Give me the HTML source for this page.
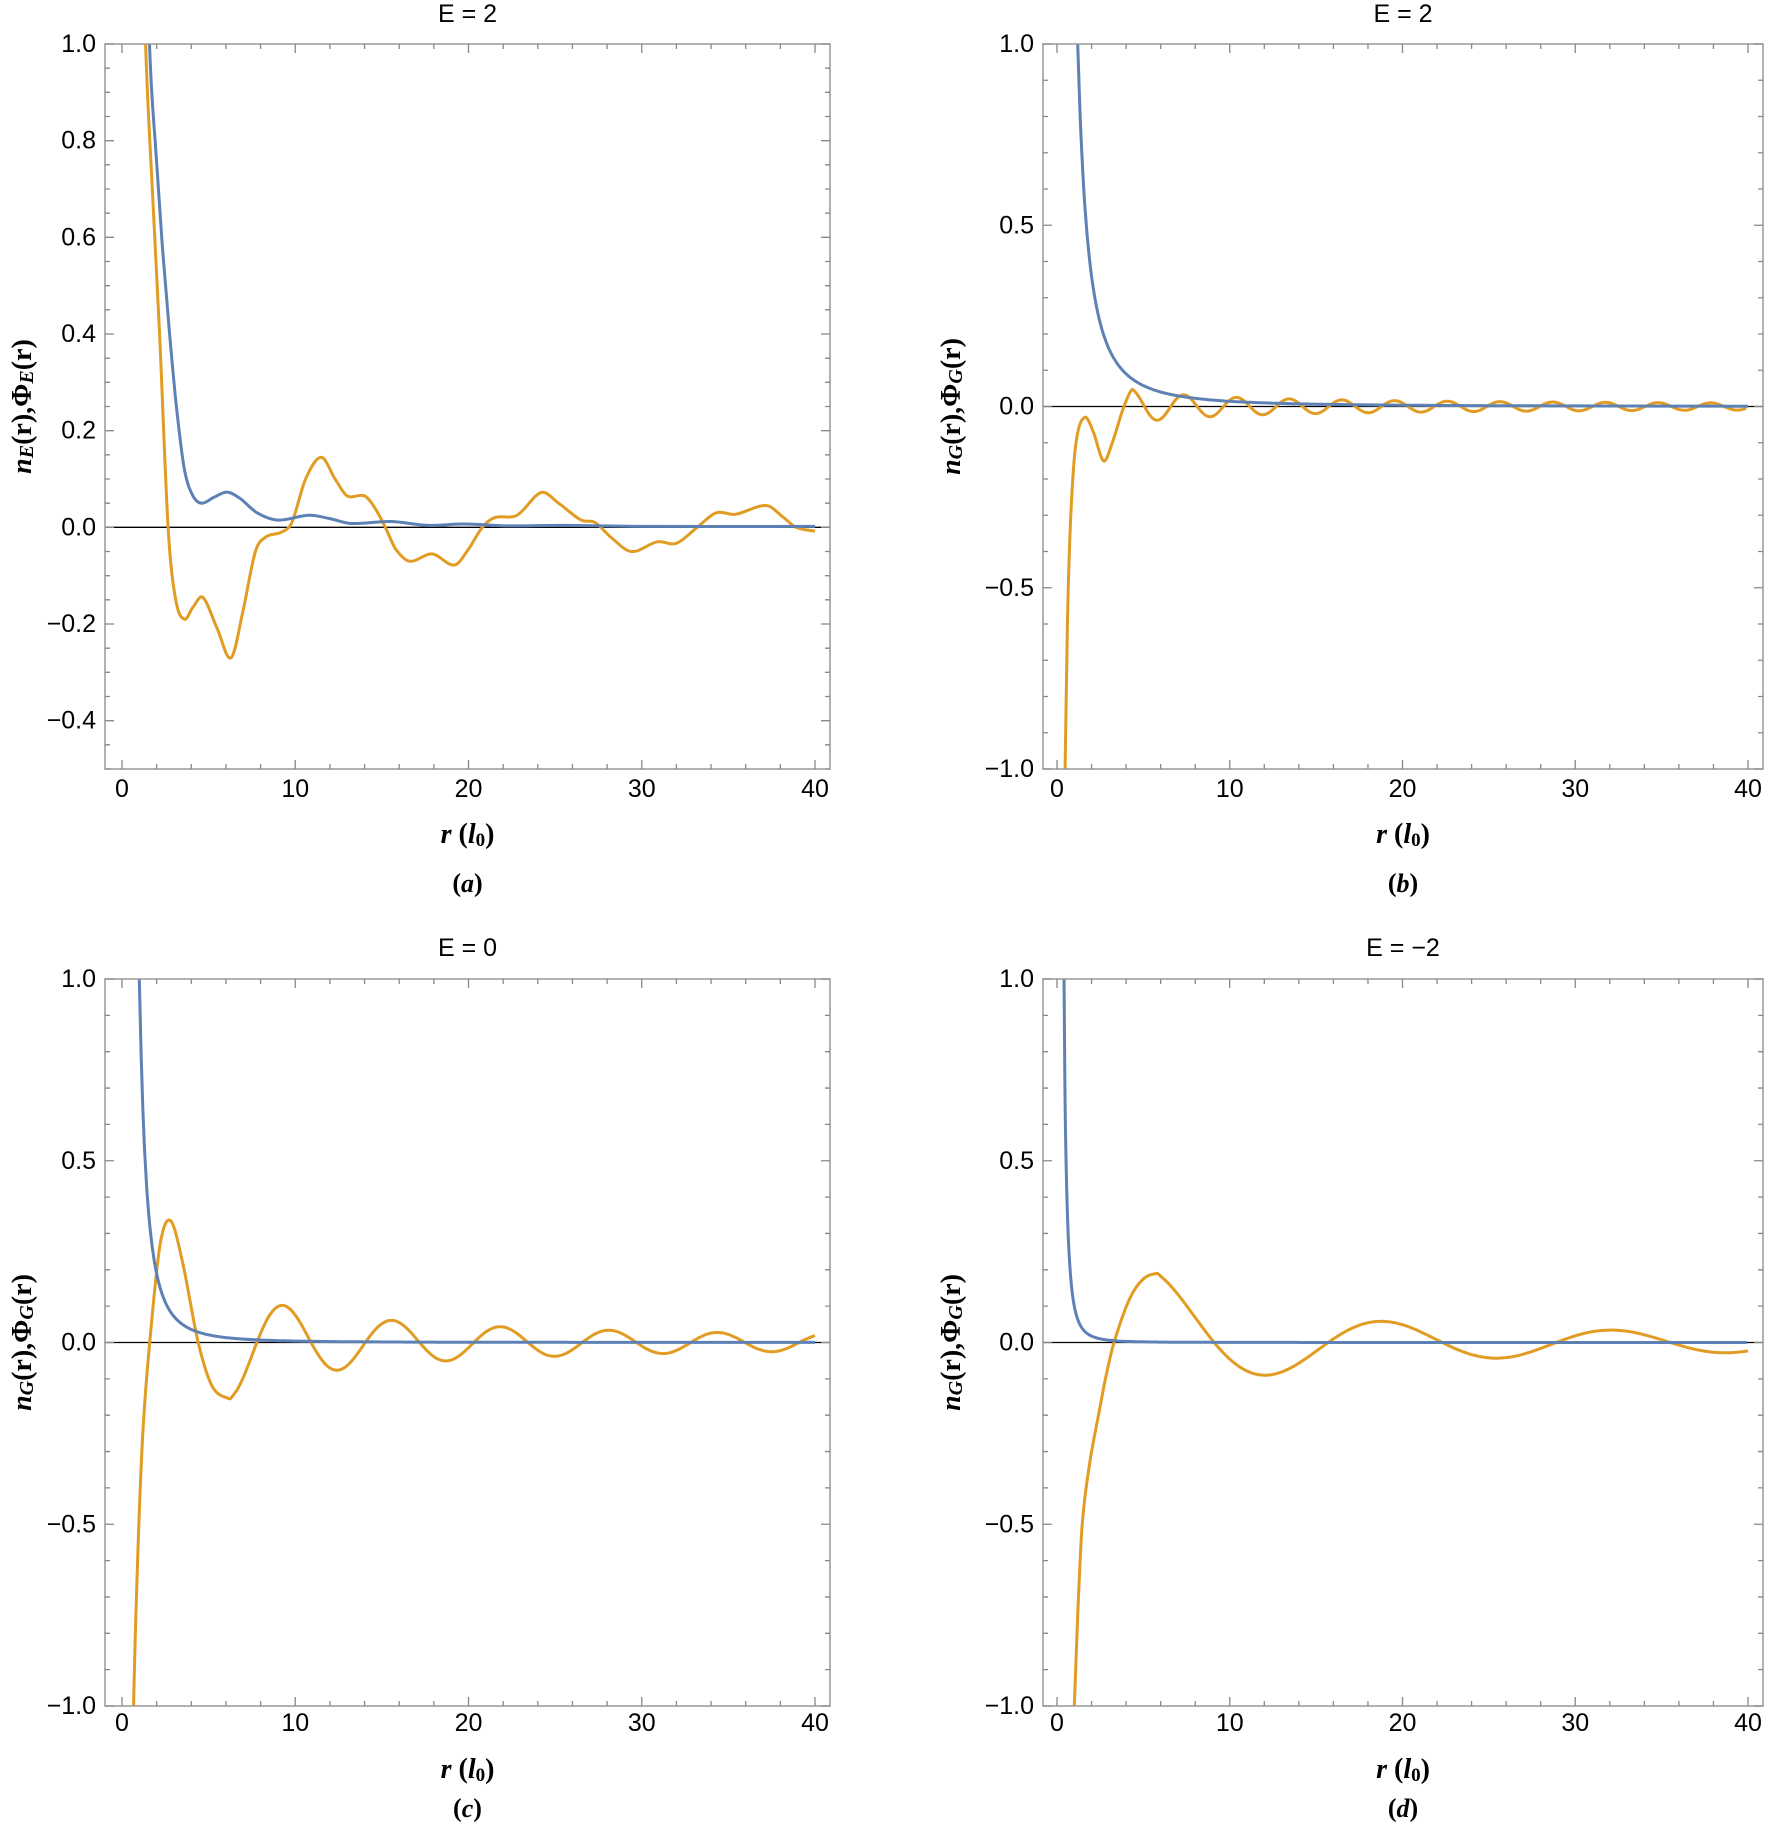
<!DOCTYPE html>
<html><head><meta charset="utf-8"><style>
html,body{margin:0;padding:0;background:#fff;}
svg{display:block;}
text{font-family:"Liberation Sans",sans-serif;}
.ser{font-family:"Liberation Serif",serif;font-weight:bold;}
</style></head><body>
<svg id="s" width="1770" height="1831" xmlns="http://www.w3.org/2000/svg"></svg>
<script>
(function(){
const S=document.getElementById('s');let out='';
function crPath(pts,X,Y){const P=pts.map(p=>[X(p[0]),Y(p[1])]);const n=P.length;const m=[];
for(let i=0;i<n;i++){const a=P[Math.max(0,i-1)],c=P[Math.min(n-1,i+1)];m.push((c[1]-a[1])/(c[0]-a[0]));}
let d='M'+P[0][0].toFixed(1)+','+P[0][1].toFixed(1);
for(let i=0;i<n-1;i++){const b=P[i],c=P[i+1],h=c[0]-b[0];
d+='C'+(b[0]+h/3).toFixed(1)+','+(b[1]+m[i]*h/3).toFixed(1)+' '+(c[0]-h/3).toFixed(1)+','+(c[1]-m[i+1]*h/3).toFixed(1)+' '+c[0].toFixed(1)+','+c[1].toFixed(1);}
return d;}
function gen(man,rc,f){const p=man.slice();for(let r=rc+0.2;r<=40.001;r+=0.2)p.push([r,f(r)]);return p;}
function fn(a,r0,r1,f){const p=[];for(let r=r0;r<=r1+1e-9;r+=0.1)p.push([r,f(r)]);return p;}
let cid=0;
function panel(o){const L=o.L,R=o.R,T=o.T,B=o.B,x0=o.x0,x40=o.x40,ymin=o.ymin,ymax=o.ymax,ymaj=o.ymaj,ymn=o.ymn,ylabs=o.ylabs;
const X=r=>x0+(x40-x0)*r/40, Y=v=>B-(v-ymin)/(ymax-ymin)*(B-T);
cid++;out+=`<clipPath id="c${cid}"><rect x="${L}" y="${T}" width="${R-L}" height="${B-T}"/></clipPath>`;
out+=`<line x1="${L}" x2="${R}" y1="${Y(0)}" y2="${Y(0)}" stroke="#000" stroke-width="1.3"/>`;
out+=`<g clip-path="url(#c${cid})" fill="none" stroke-width="3" stroke-linejoin="round">`;
out+=`<path d="${crPath(o.orange,X,Y)}" stroke="#E19C24"/>`;
out+=`<path d="${crPath(o.blue,X,Y)}" stroke="#5E81B5"/>`;
out+=`</g>`;
out+=`<rect x="${L}" y="${T}" width="${R-L}" height="${B-T}" fill="none" stroke="#999" stroke-width="1.5"/>`;
let tk='';
for(let r=0;r<=40;r+=2){const x=X(r),len=(r%10==0)?9:5;tk+=`M${x},${B}v${-len}M${x},${T}v${len}`;}
const n=Math.round((ymax-ymin)/ymn);
for(let i=0;i<=n;i++){const v=ymin+i*ymn,y=Y(v);const maj=Math.abs(v/ymaj-Math.round(v/ymaj))<1e-6;const len=maj?9:5;tk+=`M${L},${y}h${len}M${R},${y}h${-len}`;}
out+=`<path d="${tk}" stroke="#888" stroke-width="1.3" fill="none"/>`;
for(let r=0;r<=40;r+=10)out+=`<text x="${X(r)}" y="${o.tly}" font-size="25" text-anchor="middle" dominant-baseline="central">${r}</text>`;
ylabs.forEach(v=>{out+=`<text x="${L-9}" y="${Y(v)}" font-size="25" text-anchor="end" dominant-baseline="central">${v<0?'\u2212'+(-v).toFixed(1):v.toFixed(1)}</text>`;});
const cx=(L+R)/2;
out+=`<text x="${cx}" y="${o.ty}" font-size="25" text-anchor="middle" dominant-baseline="central">${o.title}</text>`;
out+=`<text class="ser" x="${cx}" y="${o.rly}" font-size="28" text-anchor="middle" dominant-baseline="central"><tspan font-style="italic">r</tspan> (<tspan font-style="italic">l</tspan><tspan font-size="19" dy="6">0</tspan><tspan dy="-6">)</tspan></text>`;
out+=`<text class="ser" x="${cx}" y="${o.cly}" font-size="26" text-anchor="middle" dominant-baseline="central">(<tspan font-style="italic">${o.cap}</tspan>)</text>`;
const cy=(T+B)/2,s=o.sub;
out+=`<text class="ser" transform="translate(${o.ylx},${cy}) rotate(-90)" font-size="28" text-anchor="middle" dominant-baseline="central"><tspan font-style="italic">n</tspan><tspan font-style="italic" font-size="20" dy="5">${s}</tspan><tspan dy="-5">(r),\u03A6</tspan><tspan font-style="italic" font-size="20" dy="5">${s}</tspan><tspan dy="-5">(r)</tspan></text>`;
}
const ROWT={T:44,B:769,ty:14,tly:789,rly:834,cly:883};
const ROWB={T:979,B:1706,ty:948,tly:1723,rly:1769,cly:1808};
const COLL={L:105,R:830,x0:122,x40:815,ylx:22};
const COLR={L:1043,R:1763,x0:1057,x40:1748,ylx:951};
panel(Object.assign({},ROWT,COLL,{ymin:-0.5,ymax:1,ymaj:0.2,ymn:0.05,ylabs:[-0.4,-0.2,0,0.2,0.4,0.6,0.8,1.0],title:'E = 2',cap:'a',sub:'E',
orange:[[1.2,1.3],[1.36,1.0],[1.75,0.7],[2.17,0.4],[2.66,0],[3.1,-0.15],[3.6,-0.19],[4.1,-0.165],[4.67,-0.145],[5.5,-0.21],[6.3,-0.27],[7.0,-0.17],[7.7,-0.05],[8.3,-0.02],[9.2,-0.01],[9.8,0.01],[10.6,0.1],[11.5,0.145],[12.3,0.1],[13,0.065],[14,0.065],[14.6,0.04],[15.2,0],[15.8,-0.045],[16.6,-0.07],[17.9,-0.055],[19.2,-0.078],[20,-0.045],[20.8,0],[21.5,0.02],[22.8,0.025],[24.2,0.072],[25.2,0.05],[26.5,0.015],[27.3,0.01],[28.2,-0.02],[29.4,-0.05],[30.9,-0.03],[32,-0.033],[33.2,0],[34.3,0.03],[35.4,0.027],[37.2,0.045],[38.2,0.02],[38.9,0],[40,-0.008]],
blue:[[1.45,1.3],[1.59,1.0],[1.95,0.78],[2.33,0.58],[2.75,0.4],[3.14,0.25],[3.6,0.12],[4.1,0.065],[4.6,0.05],[5.3,0.062],[6.06,0.073],[6.8,0.06],[7.8,0.03],[9,0.015],[10.8,0.025],[12,0.018],[13.2,0.008],[15.5,0.012],[17.7,0.004],[19.7,0.007],[22.3,0.003],[25.5,0.004],[30,0.002],[40,0.002]]}));
panel(Object.assign({},ROWT,COLR,{ymin:-1,ymax:1,ymaj:0.5,ymn:0.1,ylabs:[-1,-0.5,0,0.5,1.0],title:'E = 2',cap:'b',sub:'G',
orange:gen([[0.4,-1.3],[0.47,-1],[0.6,-0.6],[0.8,-0.3],[1.1,-0.1],[1.6,-0.03],[2.1,-0.07],[2.7,-0.15],[3.2,-0.1],[3.8,-0.01],[4.3,0.045]],4.3,r=>0.13/Math.pow(r,0.7)*Math.cos(2*Math.PI*(r-4.3)/3.05)),
blue:fn(0,1.0,40,r=>1.44/(r*r))}));
panel(Object.assign({},ROWB,COLL,{ymin:-1,ymax:1,ymaj:0.5,ymn:0.1,ylabs:[-1,-0.5,0,0.5,1.0],title:'E = 0',cap:'c',sub:'G',
orange:gen([[0.6,-1.3],[0.67,-1],[0.9,-0.6],[1.2,-0.25],[1.6,0],[2.2,0.27],[2.8,0.335],[3.5,0.22],[4.4,0],[5.2,-0.12],[6.2,-0.155]],6.2,r=>0.95/r*Math.cos(2*Math.PI*(r-9.35)/6.26)),
blue:fn(0,0.9,40,r=>1/Math.pow(r,2.4))}));
panel(Object.assign({},ROWB,COLR,{ymin:-1,ymax:1,ymaj:0.5,ymn:0.1,ylabs:[-1,-0.5,0,0.5,1.0],title:'E = \u22122',cap:'d',sub:'G',
orange:gen([[0.9,-1.2],[1.0,-1],[1.2,-0.75],[1.46,-0.5],[1.9,-0.33],[2.4,-0.2],[2.85,-0.09],[3.3,0],[4.2,0.12],[5.0,0.175],[5.8,0.19]],5.8,r=>1.1/r*Math.cos(2*Math.PI*(r-5.8)/13.2)),
blue:fn(0,0.35,40,r=>0.1/Math.pow(r,2.5))}));
S.innerHTML=out;
})();
</script>
</body></html>
